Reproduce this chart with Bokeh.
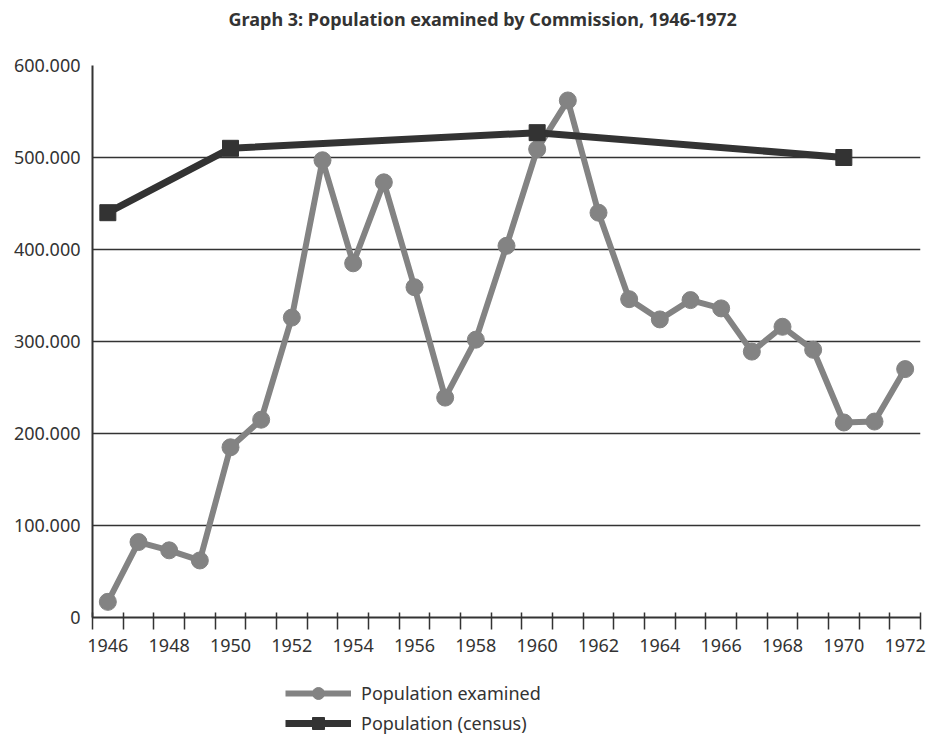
from bokeh.plotting import figure
from bokeh.layouts import column
from bokeh.models import Range1d, FixedTicker, Legend, LegendItem, Title
from bokeh.embed import file_html
from bokeh.resources import INLINE

title_text = "Graph 3: Population examined by Commission, 1946-1972"
years = list(range(1946, 1973))
examined = [17000, 82000, 73000, 62000, 185000, 215000, 326000, 497000, 385000,
            473000, 359000, 239000, 302000, 404000, 509000, 562000, 440000,
            346000, 324000, 345000, 336000, 289000, 316000, 291000, 212000,
            213000, 270000]
census_years = [1946, 1950, 1960, 1970]
census = [440000, 510000, 527000, 500000]
y_ticks = [0, 100000, 200000, 300000, 400000, 500000, 600000]
x_label_years = list(range(1946, 1973, 2))
label_examined = "Population examined"
label_census = "Population (census)"

FONT = "Noto Sans"
DARK = "#333333"
GRAY = "#838383"
W_EX, S_EX = 6, 17
W_CE, S_CE = 7, 16

p = figure(frame_width=828, frame_height=552, output_backend="svg", toolbar_location=None,
           x_range=Range1d(years[0] - 0.5, years[-1] + 0.5),
           y_range=Range1d(y_ticks[0], y_ticks[-1]),
           min_border_left=92, min_border_right=6, min_border_top=65,
           min_border_bottom=50)

p.outline_line_color = None
p.background_fill_color = "white"

# spacer between title and plot area
p.add_layout(Title(text=" ", text_font_size="1px", standoff=32), "above")

# title
p.title.text = title_text
p.title.align = "left"
p.title.offset = 136
p.title.text_font = FONT
p.title.text_font_size = "18px"
p.title.text_font_style = "bold"
p.title.text_color = DARK
p.title.standoff = 0

# x axis: labels on even years, tick marks between categories
xa = p.xaxis[0]
xa.ticker = FixedTicker(ticks=x_label_years,
                        minor_ticks=[y - 0.5 for y in years] + [years[-1] + 0.5])
xa.major_tick_line_color = None
xa.major_tick_out = 0
xa.major_tick_in = 0
xa.minor_tick_line_color = DARK
xa.minor_tick_line_width = 1.5
xa.minor_tick_in = 5
xa.minor_tick_out = 12
xa.axis_line_color = DARK
xa.axis_line_width = 2
xa.major_label_text_font = FONT
xa.major_label_text_font_size = "18px"
xa.major_label_text_color = DARK
xa.major_label_standoff = 9

# y axis
ya = p.yaxis[0]
ya.ticker = FixedTicker(ticks=y_ticks)
ya.major_label_overrides = {v: (f"{v:,}".replace(",", ".")) for v in y_ticks}
ya.major_tick_line_color = None
ya.minor_tick_line_color = None
ya.major_tick_out = 0
ya.major_tick_in = 0
ya.axis_line_color = DARK
ya.axis_line_width = 2
ya.major_label_text_font = FONT
ya.major_label_text_font_size = "18px"
ya.major_label_text_color = DARK
ya.major_label_standoff = 12

p.xgrid.grid_line_color = None
p.ygrid.ticker = FixedTicker(ticks=y_ticks)
p.ygrid.grid_line_color = DARK
p.ygrid.grid_line_width = 1.5

# series
p.line(years, examined, line_color=GRAY, line_width=W_EX)
p.scatter(years, examined, marker="circle", size=S_EX, fill_color=GRAY, line_color=GRAY)
p.line(census_years, census, line_color=DARK, line_width=W_CE)
p.scatter(census_years, census, marker="square", size=S_CE, fill_color=DARK, line_color=DARK)

# legend in a strip below the chart (its renderers sit outside the strip's range)
lg = figure(width=918, height=72, output_backend="svg", toolbar_location=None,
            x_range=Range1d(0, 1), y_range=Range1d(0, 1),
            min_border_left=0, min_border_right=0, min_border_top=0, min_border_bottom=0)
lg.axis.visible = False
lg.grid.visible = False
lg.outline_line_color = None
el = lg.line(years[:2], examined[:2], line_color=GRAY, line_width=W_EX)
es = lg.scatter(years[:1], examined[:1], marker="circle", size=S_EX, fill_color=GRAY, line_color=GRAY)
cl = lg.line(census_years[:2], census[:2], line_color=DARK, line_width=W_CE)
cs = lg.scatter(census_years[:1], census[:1], marker="square", size=S_CE, fill_color=DARK, line_color=DARK)

legend = Legend(items=[LegendItem(label=label_examined, renderers=[el, es]),
                       LegendItem(label=label_census, renderers=[cl, cs])],
                location=(193, 1), orientation="vertical")
legend.glyph_width = 66
legend.glyph_height = 30
legend.label_standoff = 10
legend.spacing = -2
legend.padding = 0
legend.margin = 0
legend.border_line_color = None
legend.background_fill_alpha = 0
legend.label_text_font = FONT
legend.label_text_font_size = "18px"
legend.label_text_color = DARK
lg.add_layout(legend, "center")

layout = column(p, lg, spacing=0)
open("out.html", "w").write(file_html(layout, INLINE))
